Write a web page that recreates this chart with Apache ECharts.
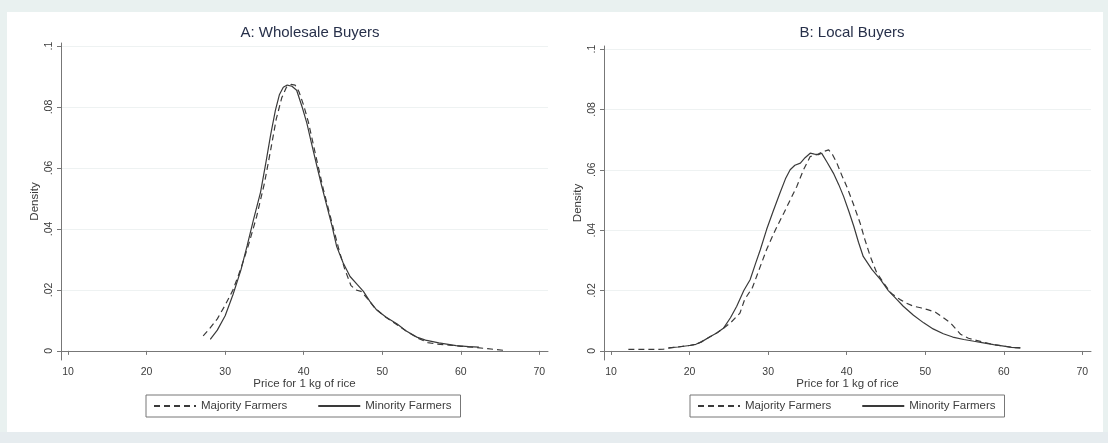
<!DOCTYPE html>
<html>
<head>
<meta charset="utf-8">
<script src="https://cdn.jsdelivr.net/npm/echarts@6/dist/echarts.min.js"></script>
<style>
  html, body { margin: 0; padding: 0; background: #e9f1f0; }
  #bottomband { position: absolute; left: 0; top: 432px; width: 1108px; height: 11px; background: #e6ecef; }
  #panel { position: absolute; left: 7px; top: 12px; width: 1096px; height: 420px; background: #ffffff; }
  #chart { position: absolute; left: 0; top: 0; width: 1108px; height: 443px; }
</style>
</head>
<body>
<div id="bottomband"></div>
<div id="panel"></div>
<div id="chart"></div>
<script>
// ---- Data ----
const panelTitles = ['A: Wholesale Buyers', 'B: Local Buyers'];
const seriesNames = ['Majority Farmers', 'Minority Farmers'];
const xTicks = [10, 20, 30, 40, 50, 60, 70];
const yTicks = [0, 0.02, 0.04, 0.06, 0.08, 0.1];
const xTitle = 'Price for 1 kg of rice';
const yTitle = 'Density';

// Panel A: Wholesale buyers
const aMajPrice = [27.2, 28.0, 29.0, 30.0, 31.0, 32.0, 33.0, 34.0, 35.0, 35.8, 36.5, 37.2, 37.8, 38.4, 38.9, 39.4, 40.0, 40.6, 41.2, 41.8, 42.5, 43.2, 43.9, 44.5, 45.2, 46.0, 46.6, 47.3, 48.0, 49.0, 50.2, 51.5, 53.0, 54.5, 55.8, 57.0, 58.5, 60.0, 61.5, 63.4, 65.4];
const aMajDens  = [0.0049, 0.0072, 0.0105, 0.015, 0.020, 0.027, 0.035, 0.044, 0.055, 0.066, 0.076, 0.083, 0.0865, 0.0874, 0.0872, 0.085, 0.0805, 0.075, 0.068, 0.061, 0.053, 0.046, 0.039, 0.033, 0.027, 0.0215, 0.020, 0.0195, 0.0175, 0.0142, 0.0115, 0.0092, 0.0066, 0.0042, 0.0027, 0.0022, 0.0019, 0.0015, 0.0012, 0.0007, 0.0002];
const aMinPrice = [28.1, 29.0, 30.0, 31.0, 32.0, 32.8, 33.6, 34.5, 35.2, 35.8, 36.4, 36.9, 37.4, 37.9, 38.5, 39.1, 39.8, 40.4, 41.0, 41.7, 42.3, 43.0, 43.6, 44.2, 45.0, 45.9, 46.8, 47.6, 48.4, 49.3, 50.5, 51.9, 53.0, 54.4, 55.5, 57.2, 59.4, 61.0, 62.3];
const aMinDens  = [0.0038, 0.0068, 0.0115, 0.0185, 0.0265, 0.0345, 0.043, 0.052, 0.062, 0.071, 0.079, 0.084, 0.0865, 0.0872, 0.0868, 0.0855, 0.080, 0.0747, 0.068, 0.0604, 0.054, 0.047, 0.041, 0.0342, 0.029, 0.0244, 0.0218, 0.0195, 0.0163, 0.0134, 0.011, 0.0088, 0.0066, 0.0045, 0.0035, 0.0026, 0.0017, 0.0014, 0.0012];

// Panel B: Local buyers
const bMajPrice = [12.2, 14.0, 15.5, 16.7, 17.5, 18.5, 20.0, 20.8, 21.5, 22.6, 23.5, 24.3, 25.2, 26.4, 27.0, 28.0, 29.0, 29.8, 30.9, 32.0, 32.8, 33.65, 34.5, 35.35, 36.2, 37.0, 37.7, 38.2, 38.75, 39.4, 40.0, 40.8, 41.7, 42.3, 43.0, 43.8, 44.7, 45.7, 46.8, 47.6, 48.5, 49.4, 50.3, 51.3, 52.3, 53.2, 54.0, 54.5, 55.5, 56.5, 57.5, 58.7, 60.0, 61.0, 62.1];
const bMajDens  = [0.0005, 0.0005, 0.0005, 0.0006, 0.001, 0.0013, 0.0018, 0.0022, 0.003, 0.0047, 0.006, 0.0075, 0.0093, 0.0125, 0.017, 0.021, 0.028, 0.0336, 0.040, 0.0457, 0.050, 0.0545, 0.060, 0.0644, 0.065, 0.066, 0.0666, 0.065, 0.0622, 0.058, 0.0545, 0.049, 0.0424, 0.037, 0.0313, 0.026, 0.0225, 0.019, 0.017, 0.0158, 0.0148, 0.0143, 0.0137, 0.0128, 0.011, 0.0093, 0.007, 0.0055, 0.0042, 0.0035, 0.0028, 0.0021, 0.0016, 0.0012, 0.001];
const bMinPrice = [17.3, 18.5, 20.0, 20.8, 21.5, 22.6, 23.5, 24.3, 25.2, 26.0, 26.9, 27.7, 28.4, 29.0, 29.8, 30.6, 31.5, 32.2, 32.8, 33.4, 34.1, 34.7, 35.35, 35.9, 36.4, 36.8, 37.5, 38.3, 39.0, 39.6, 40.3, 40.9, 41.5, 42.1, 43.2, 44.3, 45.3, 46.4, 47.2, 48.5, 49.8, 51.0, 52.3, 53.5, 54.9, 56.2, 57.4, 58.7, 60.0, 61.0, 62.1];
const bMinDens  = [0.001, 0.0013, 0.0018, 0.0022, 0.003, 0.0047, 0.006, 0.0075, 0.011, 0.0148, 0.020, 0.0236, 0.029, 0.0335, 0.0402, 0.046, 0.0523, 0.057, 0.060, 0.0615, 0.0622, 0.064, 0.0655, 0.0652, 0.065, 0.0655, 0.0625, 0.0589, 0.055, 0.0512, 0.046, 0.0413, 0.036, 0.0313, 0.027, 0.0236, 0.020, 0.017, 0.0148, 0.0118, 0.0093, 0.0073, 0.0057, 0.0046, 0.0038, 0.0032, 0.0027, 0.0021, 0.0016, 0.0012, 0.001];

// ---- Build chart ----
const zip = (xs, ys) => xs.map((x, i) => [x, ys[i]]);
const FONT = 'Liberation Sans, Arial, sans-serif';
const lineColor = '#3a3a3a';
const textColor = '#3c3c3c';

const grids = [
  { left: 61, top: 43, width: 487, height: 317 },
  { left: 604, top: 46, width: 487, height: 314 }
];

function xAxisFor(i) {
  return {
    type: 'value', gridIndex: i, min: 9.1, max: 71.1,
    name: xTitle, nameLocation: 'middle', nameGap: 18, nameMoveOverlap: false,
    nameTextStyle: { fontFamily: FONT, fontSize: 11.5, color: textColor },
    axisLine: { show: true, lineStyle: { color: '#777', width: 1 } },
    axisTick: { show: true, length: 4, customValues: xTicks, lineStyle: { color: '#777' } },
    axisLabel: { customValues: xTicks, fontFamily: FONT, fontSize: 10.5, color: textColor, margin: 7 },
    splitLine: { show: false }
  };
}
function yAxisFor(i) {
  return {
    type: 'value', gridIndex: i, min: -0.003, max: 0.101,
    name: yTitle, nameLocation: 'middle', nameGap: 20, nameRotate: 90, nameMoveOverlap: false,
    nameTextStyle: { fontFamily: FONT, fontSize: 11.5, color: textColor },
    axisLine: { show: true, lineStyle: { color: '#777', width: 1 } },
    axisTick: { show: true, length: 4, customValues: yTicks, lineStyle: { color: '#777' } },
    axisLabel: {
      customValues: yTicks, rotate: 90, fontFamily: FONT, fontSize: 10.5, color: textColor, margin: 6,
      formatter: v => (Math.abs(v) < 1e-9 ? '0' : String(+v.toFixed(2)).replace(/^0\./, '.'))
    },
    splitLine: { show: true, lineStyle: { color: '#eef2f2', width: 1 } }
  };
}

const dashed = { color: lineColor, width: 1.2, type: [6, 4] };
const solid = { color: lineColor, width: 1.2, type: 'solid' };

const option = {
  animation: false,
  backgroundColor: 'transparent',
  textStyle: { fontFamily: FONT },
  title: [
    { text: panelTitles[0], left: 305, top: 20, textAlign: 'center',
      textStyle: { fontFamily: FONT, fontSize: 15, fontWeight: 'normal', color: '#27304a' } },
    { text: panelTitles[1], left: 847, top: 20, textAlign: 'center',
      textStyle: { fontFamily: FONT, fontSize: 15, fontWeight: 'normal', color: '#27304a' } }
  ],
  grid: grids,
  xAxis: [xAxisFor(0), xAxisFor(1)],
  yAxis: [yAxisFor(0), yAxisFor(1)],
  legend: [0, 1].map(i => ({
    data: seriesNames,
    left: i === 0 ? 146 : 690, top: 395,
    orient: 'horizontal',
    itemWidth: 42, itemHeight: 10, itemGap: 30,
    padding: [5, 9, 5, 7],
    borderColor: '#777', borderWidth: 1,
    itemStyle: { opacity: 0, borderWidth: 0 },
    textStyle: { fontFamily: FONT, fontSize: 11.5, color: textColor },
    selectedMode: false
  })),
  series: [
    { name: seriesNames[0], type: 'line', xAxisIndex: 0, yAxisIndex: 0, data: zip(aMajPrice, aMajDens),
      symbol: 'none', lineStyle: dashed, itemStyle: { color: lineColor }, z: 3 },
    { name: seriesNames[1], type: 'line', xAxisIndex: 0, yAxisIndex: 0, data: zip(aMinPrice, aMinDens),
      symbol: 'none', lineStyle: solid, itemStyle: { color: lineColor }, z: 3 },
    { name: seriesNames[0], type: 'line', xAxisIndex: 1, yAxisIndex: 1, data: zip(bMajPrice, bMajDens),
      symbol: 'none', lineStyle: dashed, itemStyle: { color: lineColor }, z: 3 },
    { name: seriesNames[1], type: 'line', xAxisIndex: 1, yAxisIndex: 1, data: zip(bMinPrice, bMinDens),
      symbol: 'none', lineStyle: solid, itemStyle: { color: lineColor }, z: 3 }
  ]
};

const chart = echarts.init(document.getElementById('chart'), null, { renderer: 'canvas' });
chart.setOption(option);
</script>
</body>
</html>
